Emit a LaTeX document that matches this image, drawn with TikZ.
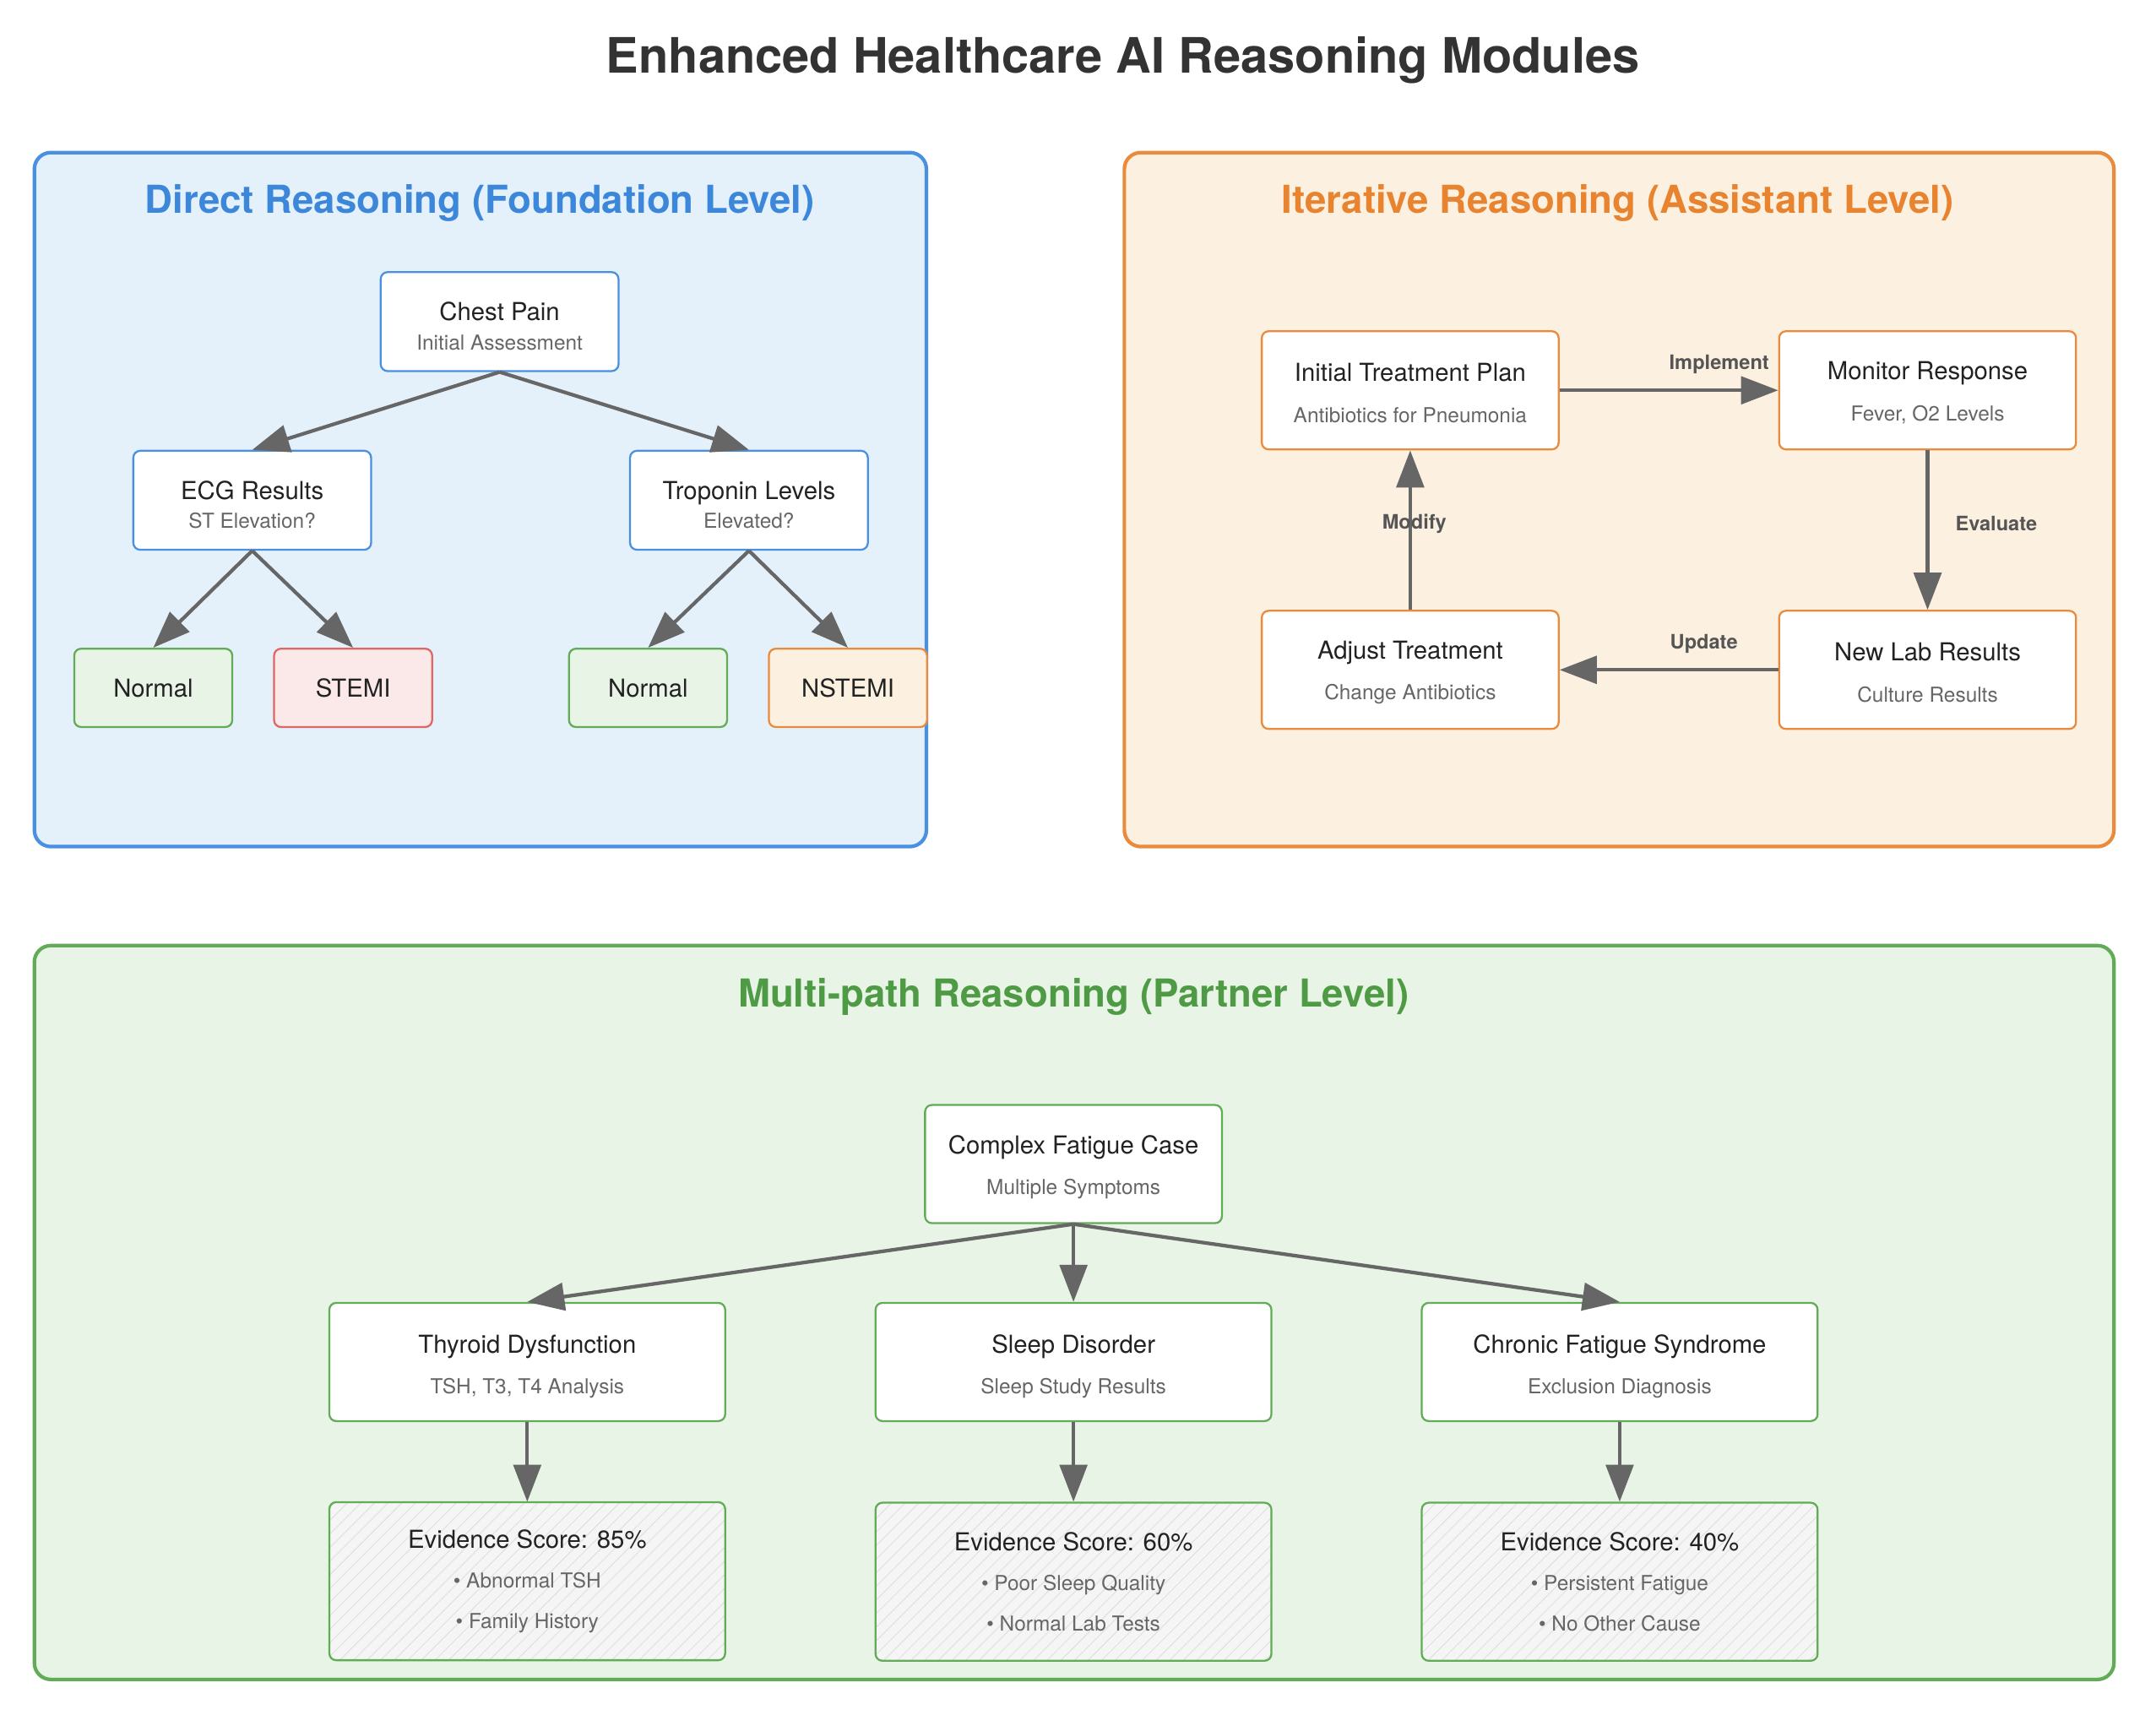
\documentclass[tikz,border=0pt]{standalone}
\usepackage{fontspec}
\setmainfont{TeX Gyre Heros}
\usetikzlibrary{arrows.meta,positioning,patterns.meta}

\definecolor{blueline}{HTML}{4A90E2}
\definecolor{bluefill}{HTML}{E4F1FB}
\definecolor{bluetext}{HTML}{3D87DA}
\definecolor{orangeline}{HTML}{EA8A3C}
\definecolor{orangefill}{HTML}{FCF1E0}
\definecolor{orangetext}{HTML}{E8832F}
\definecolor{greenline}{HTML}{62AB57}
\definecolor{greenfill}{HTML}{E8F4E5}
\definecolor{greentext}{HTML}{4F9B45}
\definecolor{redline}{HTML}{E06666}
\definecolor{redfill}{HTML}{FBE8E9}
\definecolor{arrgray}{HTML}{666666}
\definecolor{subgray}{HTML}{666666}
\definecolor{labgray}{HTML}{555555}
\definecolor{maintext}{HTML}{222222}
\definecolor{titletext}{HTML}{333333}
\definecolor{evfill}{HTML}{F4F5F4}
\definecolor{hatch}{HTML}{DFE1DF}

\newcommand{\subtxt}[1]{{\fontsize{15}{17}\selectfont\color{subgray}#1}}
\newcommand{\strutup}[1][20pt]{\rule{0pt}{#1}}

\tikzset{
  panel/.style={draw=#1line, fill=#1fill, line width=2.6pt, rounded corners=12pt, inner sep=0pt},
  ptitle/.style={text=#1text, font=\fontsize{28}{32}\selectfont\bfseries},
  box/.style={draw=#1line, fill=white, line width=1.4pt, rounded corners=5pt, inner sep=0pt,
    align=center, text=maintext, font=\fontsize{18}{22}\selectfont},
  dnode/.style={box=blue, minimum width=173pt, minimum height=72pt},
  leaf/.style={box=#1, fill=#1fill, minimum width=115pt, minimum height=57pt},
  inode/.style={box=orange, minimum width=216pt, minimum height=86pt},
  mnode/.style={box=green, minimum width=288pt, minimum height=86pt},
  enode/.style={box=green, minimum width=288pt, minimum height=115pt, preaction={fill=evfill},
    pattern={Lines[angle=45,distance=7pt,line width=0.6pt]}, pattern color=hatch},
  arr/.style={color=arrgray, line width=2.6pt, -{Triangle[length=27pt,width=20pt]}},
  elab/.style={font=\fontsize{14.5}{16}\selectfont\bfseries, text=labgray, inner sep=0pt}
}

\begin{document}
\begin{tikzpicture}[x=1pt, y=-1pt]
  \useasboundingbox (0,0) rectangle (1568.6,1247.3);
  \node [font=\fontsize{35.5}{40}\selectfont\bfseries, text=titletext] (title) at (817,44)
    {Enhanced Healthcare AI Reasoning Modules};

  % direct reasoning
  \node [panel=blue, minimum width=649pt, minimum height=505pt] (p_1) at (349.5,363.5) {};
  \node [ptitle=blue] (t_1) at (349,148) {Direct Reasoning (Foundation Level)};
  \node [dnode] (d_0) at (363.5,234) {\strutup Chest Pain\\[-1pt]\subtxt{Initial Assessment}};
  \node [dnode] (d_1) at (183.5,364) {\strutup ECG Results\\[-1pt]\subtxt{ST Elevation?}};
  \node [dnode] [right=187pt of d_1] (d_2) {\strutup Troponin Levels\\[-1pt]\subtxt{Elevated?}};
  \node [leaf=green] (d_3) at (111.5,500.5) {Normal};
  \node [leaf=red] [right=29pt of d_3] (d_4) {STEMI};
  \node [leaf=green] (d_5) at (471.5,500.5) {Normal};
  \node [leaf=orange] [right=29pt of d_5] (d_6) {NSTEMI};
    \path[arr]
    (d_0.south) edge (d_1.north)
    (d_0.south) edge (d_2.north)
    (d_1.south) edge (d_3.north)
    (d_1.south) edge (d_4.north)
    (d_2.south) edge (d_5.north)
    (d_2.south) edge (d_6.north)
    ;

  % iterative reasoning
  \node [panel=orange, minimum width=720pt, minimum height=505pt] (p_2) at (1178,363.5) {};
  \node [ptitle=orange] (t_2) at (1177,148) {Iterative Reasoning (Assistant Level)};
  \node [inode] (i_0) at (1026,284) {\strutup[17pt]Initial Treatment Plan\\[8pt]\subtxt{Antibiotics for Pneumonia}};
  \node [inode] [right=159pt of i_0] (i_1) {\strutup[17pt]Monitor Response\\[8pt]\subtxt{Fever, O2 Levels}};
  \node [inode] [below=116pt of i_1] (i_2) {\strutup[17pt]New Lab Results\\[8pt]\subtxt{Culture Results}};
  \node [inode] [below=116pt of i_0] (i_3) {\strutup[17pt]Adjust Treatment\\[8pt]\subtxt{Change Antibiotics}};
    \path[arr]
    (i_0) edge node [elab, pos=0.73, above=11pt] {Implement} (i_1)
    (i_1) edge node [elab, pos=0.46, right=19pt] {Evaluate} (i_2)
    (i_2) edge node [elab, pos=0.34, above=11pt] {Update} (i_3)
    (i_3) edge node [elab, pos=0.54, xshift=3pt] {Modify} (i_0)
    ;

  % multi-path reasoning
  \node [panel=green, minimum width=1513pt, minimum height=534pt] (p_3) at (781.5,955) {};
  \node [ptitle=green] (t_3) at (781,725) {Multi-path Reasoning (Partner Level)};
  \node [box=green, minimum width=216pt, minimum height=86pt] (m_0) at (781,847)
    {\strutup[18pt]Complex Fatigue Case\\[8pt]\subtxt{Multiple Symptoms}};
  \node [mnode] (m_2) at (781,991) {\strutup Sleep Disorder\\[8pt]\subtxt{Sleep Study Results}};
  \node [mnode] [left=108pt of m_2] (m_1) {\strutup Thyroid Dysfunction\\[8pt]\subtxt{TSH, T3, T4 Analysis}};
  \node [mnode] [right=108pt of m_2] (m_3) {\strutup Chronic Fatigue Syndrome\\[8pt]\subtxt{Exclusion Diagnosis}};
  \node [enode] [below=58pt of m_1] (e_1)
    {Evidence Score: 85\%\\[7pt]\subtxt{• Abnormal TSH}\\[7pt]\subtxt{• Family History}};
  \node [enode] [below=58pt of m_2] (e_2)
    {Evidence Score: 60\%\\[7pt]\subtxt{• Poor Sleep Quality}\\[7pt]\subtxt{• Normal Lab Tests}};
  \node [enode] [below=58pt of m_3] (e_3)
    {Evidence Score: 40\%\\[7pt]\subtxt{• Persistent Fatigue}\\[7pt]\subtxt{• No Other Cause}};
    \path[arr]
    (m_0.south) edge (m_1.north)
    (m_0.south) edge (m_2.north)
    (m_0.south) edge (m_3.north)
    (m_1) edge (e_1)
    (m_2) edge (e_2)
    (m_3) edge (e_3)
    ;
\end{tikzpicture}
\end{document}
